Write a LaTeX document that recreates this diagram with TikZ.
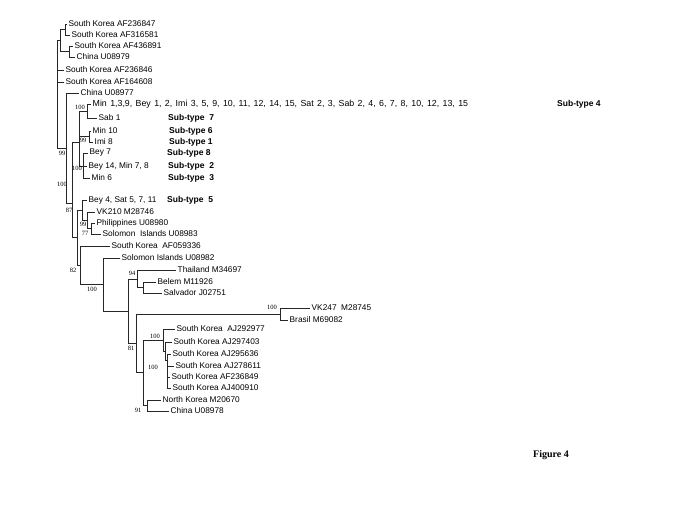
\documentclass[tikz,border=0pt]{standalone}
\usepackage{fontspec}
\setmainfont{Liberation Serif}
\setsansfont{Liberation Sans}
\usetikzlibrary{positioning}

\tikzset{
    leaf/.style={anchor=west, inner sep=1.5pt, font=\sffamily\fontsize{8.3}{9}\selectfont},
    boot/.style={inner sep=0pt, font=\fontsize{6.5}{7}\selectfont},
    subtype/.style={anchor=west, inner sep=0pt, font=\sffamily\bfseries\fontsize{8.5}{9}\selectfont},
    branch/.style={line width=0.6pt, black!85},
}

\begin{document}
\begin{tikzpicture}[x=1pt, y=-1pt]
        \useasboundingbox (0,0) rectangle (685,513);

        % leaves
        \node[leaf] (sk847)  at (67,24)   {South Korea AF236847};
        \node[leaf] (sk581)  at (70,35)   {South Korea AF316581};
        \node[leaf] (sk891)  at (73,46)   {South Korea AF436891};
        \node[leaf] (cn979)  at (75,57)   {China U08979};
        \node[leaf] (sk846)  at (64,70)   {South Korea AF236846};
        \node[leaf] (sk608)  at (64,82)   {South Korea AF164608};
        \node[leaf] (cn977)  at (79,93)   {China U08977};
        \node[leaf, font=\sffamily\fontsize{8.8}{9}\selectfont] (min1) at (91,104)
            {\spaceskip=3.4pt Min 1,3,9, Bey 1, 2, Imi 3, 5, 9, 10, 11, 12, 14, 15, Sat 2, 3, Sab 2, 4, 6, 7, 8, 10, 12, 13, 15};
        \node[leaf] (sab1)   at (97,118)  {Sab 1};
        \node[leaf] (min10)  at (91,131)  {Min 10};
        \node[leaf] (imi8)   at (93,142)  {Imi 8};
        \node[leaf] (bey7)   at (88,153)  {Bey 7};
        \node[leaf] (bey14)  at (87,166)  {Bey 14, Min 7, 8};
        \node[leaf] (min6)   at (90,178)  {Min 6};
        \node[leaf] (bey4)   at (87,200)  {Bey 4, Sat 5, 7, 11};
        \node[leaf] (vk210)  at (95,212)  {VK210 M28746};
        \node[leaf] (phil)   at (95,223)  {Philippines U08980};
        \node[leaf] (sol983) at (101,234) {Solomon\ \ Islands U08983};
        \node[leaf] (sk336)  at (110,246) {South Korea\ \ AF059336};
        \node[leaf] (sol982) at (120,258) {Solomon Islands U08982};
        \node[leaf] (thai)   at (176,270) {Thailand M34697};
        \node[leaf] (belem)  at (156,282) {Belem M11926};
        \node[leaf] (salv)   at (162,293) {Salvador J02751};
        \node[leaf] (vk247)  at (310,308) {VK247\ \ M28745};
        \node[leaf] (brasil) at (288,320) {Brasil M69082};
        \node[leaf] (aj977)  at (175,329) {South Korea\ \ AJ292977};
        \node[leaf] (aj403)  at (172,342) {South Korea AJ297403};
        \node[leaf] (aj636)  at (171,354) {South Korea AJ295636};
        \node[leaf] (aj611)  at (174,366) {South Korea AJ278611};
        \node[leaf] (af849)  at (170,377) {South Korea AF236849};
        \node[leaf] (aj910)  at (171,388) {South Korea AJ400910};
        \node[leaf] (nk670)  at (161,400) {North Korea M20670};
        \node[leaf] (cn978)  at (169,411) {China U08978};

        % inner nodes
        \coordinate (nRoot) at (57,40.5);
        \coordinate (nA)    at (60,40.5);
        \coordinate (nA1)   at (65,29.5);
        \coordinate (nA2)   at (69,51.5);
        \coordinate (n99)   at (66,148);
        \coordinate (n100L) at (72,203);
        \coordinate (nMd)   at (79,142);
        \coordinate (nMa)   at (87,111);
        \coordinate (nMb)   at (89,136.5);
        \coordinate (nMc)   at (83,166);
        \coordinate (nLow)  at (77,237.5);
        \coordinate (n87)   at (82,210);
        \coordinate (n99b)  at (87,220);
        \coordinate (n77)   at (91,228.5);
        \coordinate (n82)   at (80,265);
        \coordinate (n100b) at (103,284);
        \coordinate (nX)    at (128,311);
        \coordinate (n94)   at (137,279);
        \coordinate (nBS)   at (143,287.5);
        \coordinate (n81)   at (136,343);
        \coordinate (nVK)   at (280,314);
        \coordinate (nL)    at (143,372.5);
        \coordinate (nSKa)  at (163,340);
        \coordinate (nSKb)  at (165,351);
        \coordinate (nSKc)  at (167,360);
        \coordinate (n91)   at (147,405.5);

        % branches
        \foreach \p/\c in {nRoot/nA, nRoot/sk846, nRoot/sk608, nRoot/n99,
                nA/nA1, nA/nA2, nA1/sk847, nA1/sk581, nA2/sk891, nA2/cn979,
                n99/cn977, n99/n100L, n100L/nMd, n100L/nLow,
                nMd/nMa, nMd/nMb, nMd/nMc, nMa/min1, nMa/sab1, nMb/min10, nMb/imi8,
                nMc/bey7, nMc/bey14, nMc/min6,
                nLow/n87, nLow/n82, n87/bey4, n87/n99b, n99b/vk210, n99b/n77, n77/phil, n77/sol983,
                n82/sk336, n82/n100b, n100b/sol982, n100b/nX, nX/n94, nX/n81,
                n94/thai, n94/nBS, nBS/belem, nBS/salv,
                n81/nVK, n81/nL, nVK/vk247, nVK/brasil,
                nL/nSKa, nL/n91, nSKa/aj977, nSKa/nSKb, nSKb/aj403, nSKb/nSKc,
                nSKc/aj636, nSKc/aj611, nSKc/af849, nSKc/aj910,
                n91/nk670, n91/cn978}
            \draw[branch] (\p) |- (\c);

        % bootstrap values
        \node[boot] (b100a)   at (80,107)  {100};
        \node[boot] (b99a)    at (83,140)  {99};
        \node[boot] (b100c)   at (77,168)  {100};
        \node[boot] (b99)     at (62,153)  {99};
        \node[boot] (b100L)   at (62,184)  {100};
        \node[boot] (b87)     at (69,210)  {87};
        \node[boot] (b99b)    at (83,224)  {99};
        \node[boot] (b77)     at (85,233)  {77};
        \node[boot] (b82)     at (73,270)  {82};
        \node[boot] (b100b)   at (92,289)  {100};
        \node[boot] (b94)     at (132,273) {94};
        \node[boot] (b100vk)  at (272,307) {100};
        \node[boot] (b81)     at (131,348) {81};
        \node[boot] (b100sk)  at (155,336) {100};
        \node[boot] (b100skc) at (153,367) {100};
        \node[boot] (b91)     at (138,410) {91};

        % sub-types
        \node[subtype] (st4) at (557,104) {Sub-type 4};
        \node[subtype] (st7) at (168,118) {Sub-type\ \ 7};
        \node[subtype] (st6) at (169,131) {Sub-type 6};
        \node[subtype] (st1) at (169,142) {Sub-type 1};
        \node[subtype] (st8) at (167,153) {Sub-type 8};
        \node[subtype] (st2) at (168,166) {Sub-type\ \ 2};
        \node[subtype] (st3) at (168,178) {Sub-type\ \ 3};
        \node[subtype] (st5) at (167,200) {Sub-type\ \ 5};

        \node[anchor=west, inner sep=0pt, font=\bfseries\fontsize{10}{12}\selectfont] (fig) at (533,455) {Figure 4};
    \end{tikzpicture}
\end{document}
